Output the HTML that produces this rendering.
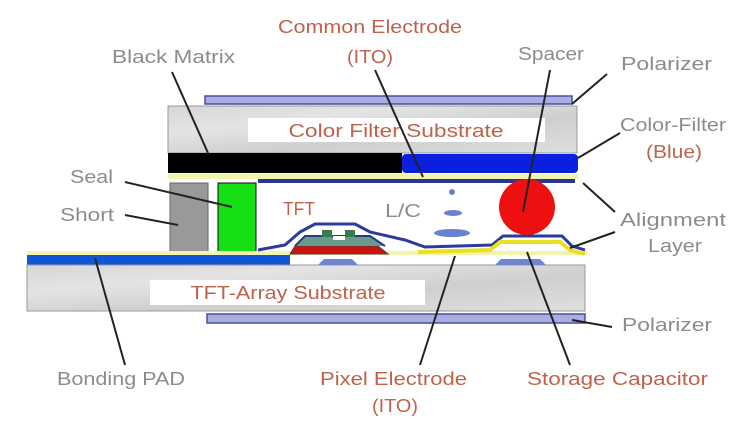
<!DOCTYPE html>
<html><head><meta charset="utf-8"><style>
html,body{margin:0;padding:0;background:#fff}
svg{display:block}
text{font-family:"Liberation Sans Narrow","Liberation Sans",sans-serif;font-size:18px}
.g{fill:#8c8c8c}.r{fill:#c0614b}
</style></head><body>
<svg width="743" height="422" viewBox="0 0 743 422" xmlns="http://www.w3.org/2000/svg">
<defs>
<linearGradient id="m" x1="0" y1="0" x2="1" y2="1">
<stop offset="0" stop-color="#d6d6d6"/><stop offset=".3" stop-color="#e4e4e4"/><stop offset=".6" stop-color="#cfcfcf"/><stop offset="1" stop-color="#dedede"/>
</linearGradient>
</defs>
<rect x="205" y="96" width="367" height="8" fill="#a9aee2" stroke="#4a4f9a" stroke-width="1.5"/>
<rect x="168" y="106" width="409" height="47" fill="url(#m)" stroke="#999" stroke-width="1"/>
<rect x="248" y="118" width="297" height="24" fill="#fff"/>
<text x="396" y="137" class="r" text-anchor="middle" textLength="215" lengthAdjust="spacingAndGlyphs">Color Filter Substrate</text>
<rect x="168" y="153" width="234" height="20" fill="#000"/>
<rect x="402" y="154" width="176" height="19" rx="4" fill="#0a20e0"/>
<rect x="168" y="174" width="410" height="5" fill="#f3f3b0"/>
<rect x="258" y="179" width="317" height="4" fill="#2a3590"/>
<rect x="170" y="183" width="38" height="69" fill="#999" stroke="#666" stroke-width="1"/>
<rect x="218" y="183" width="38" height="69" fill="#15e015" stroke="#0a0a0a" stroke-width="1"/>
<rect x="27" y="251" width="560" height="4" fill="#f3f3b0"/>
<rect x="27" y="255" width="263" height="10" fill="#1055d8"/>
<rect x="27" y="265" width="558" height="46" fill="url(#m)" stroke="#999" stroke-width="1"/>
<rect x="150" y="280" width="275" height="25" fill="#fff"/>
<text x="288" y="299" class="r" text-anchor="middle" textLength="195" lengthAdjust="spacingAndGlyphs">TFT-Array Substrate</text>
<rect x="207" y="314" width="378" height="9" fill="#a9aee2" stroke="#4a4f9a" stroke-width="1.5"/>
<path d="M318 265 L324 259 L352 259 L358 265 Z" fill="#7085d0"/>
<path d="M495 265 L501 259 L540 259 L546 265 Z" fill="#7085d0"/>
<path d="M290 254 L295 246 L378 246 L388 254 Z" fill="#d01010" stroke="#444" stroke-width="1"/>
<path d="M295 246 L305 236 L370 236 L385 246" fill="#6a9a8a" stroke="#2a3a80" stroke-width="2"/>
<rect x="322" y="230" width="10" height="7" fill="#3a7a50"/>
<rect x="345" y="230" width="10" height="7" fill="#3a7a50"/>
<rect x="333" y="236" width="12" height="4" fill="#fff"/>
<path d="M258 250 L285 245 L300 232 L315 224 L355 224 L370 232 L405 240 L425 247 L492 245 L503 236 L562 236 L572 246 L585 250" fill="none" stroke="#2a3aa0" stroke-width="3"/>
<path d="M418 252 L490 250 L500 242 L560 242 L570 250 L585 254" fill="none" stroke="#e8e020" stroke-width="4"/>
<circle cx="452" cy="192" r="3" fill="#6a80d0"/>
<ellipse cx="453" cy="213" rx="9" ry="3" fill="#6a80d0"/>
<ellipse cx="452" cy="233" rx="18" ry="4" fill="#6a80d0"/>
<circle cx="527" cy="207" r="28" fill="#ee1010"/>
<g stroke="#222" stroke-width="2" fill="none">
<line x1="172" y1="72" x2="208" y2="153"/>
<line x1="375" y1="70" x2="423" y2="177"/>
<line x1="550" y1="70" x2="523" y2="212"/>
<line x1="607" y1="74" x2="572" y2="104"/>
<line x1="620" y1="133" x2="578" y2="158"/>
<line x1="583" y1="183" x2="615" y2="212"/>
<line x1="615" y1="232" x2="570" y2="248"/>
<line x1="125" y1="182" x2="232" y2="207"/>
<line x1="125" y1="215" x2="178" y2="225"/>
<line x1="95" y1="258" x2="125" y2="365"/>
<line x1="455" y1="256" x2="420" y2="365"/>
<line x1="527" y1="252" x2="570" y2="365"/>
<line x1="572" y1="320" x2="612" y2="327"/>
</g>
<text x="370" y="33" class="r" text-anchor="middle" textLength="184" lengthAdjust="spacingAndGlyphs">Common Electrode</text>
<text x="370" y="63" class="r" text-anchor="middle" textLength="46" lengthAdjust="spacingAndGlyphs">(ITO)</text>
<text x="112" y="63" class="g" textLength="123" lengthAdjust="spacingAndGlyphs">Black Matrix</text>
<text x="518" y="60" class="g" textLength="66" lengthAdjust="spacingAndGlyphs">Spacer</text>
<text x="621" y="70" class="g" textLength="91" lengthAdjust="spacingAndGlyphs">Polarizer</text>
<text x="620" y="131" class="g" textLength="106" lengthAdjust="spacingAndGlyphs">Color-Filter</text>
<text x="646" y="158" class="r" textLength="56" lengthAdjust="spacingAndGlyphs">(Blue)</text>
<text x="70" y="183" class="g" textLength="43" lengthAdjust="spacingAndGlyphs">Seal</text>
<text x="60" y="221" class="g" textLength="54" lengthAdjust="spacingAndGlyphs">Short</text>
<text x="620" y="226" class="g" textLength="106" lengthAdjust="spacingAndGlyphs">Alignment</text>
<text x="648" y="252" class="g" textLength="54" lengthAdjust="spacingAndGlyphs">Layer</text>
<text x="283" y="215" class="r" textLength="32" lengthAdjust="spacingAndGlyphs">TFT</text>
<text x="385" y="217" class="g" textLength="36" lengthAdjust="spacingAndGlyphs">L/C</text>
<text x="622" y="331" class="g" textLength="90" lengthAdjust="spacingAndGlyphs">Polarizer</text>
<text x="57" y="385" class="g" textLength="128" lengthAdjust="spacingAndGlyphs">Bonding PAD</text>
<text x="320" y="385" class="r" textLength="147" lengthAdjust="spacingAndGlyphs">Pixel Electrode</text>
<text x="395" y="412" class="r" text-anchor="middle" textLength="46" lengthAdjust="spacingAndGlyphs">(ITO)</text>
<text x="527" y="385" class="r" textLength="181" lengthAdjust="spacingAndGlyphs">Storage Capacitor</text>
</svg>
</body></html>
